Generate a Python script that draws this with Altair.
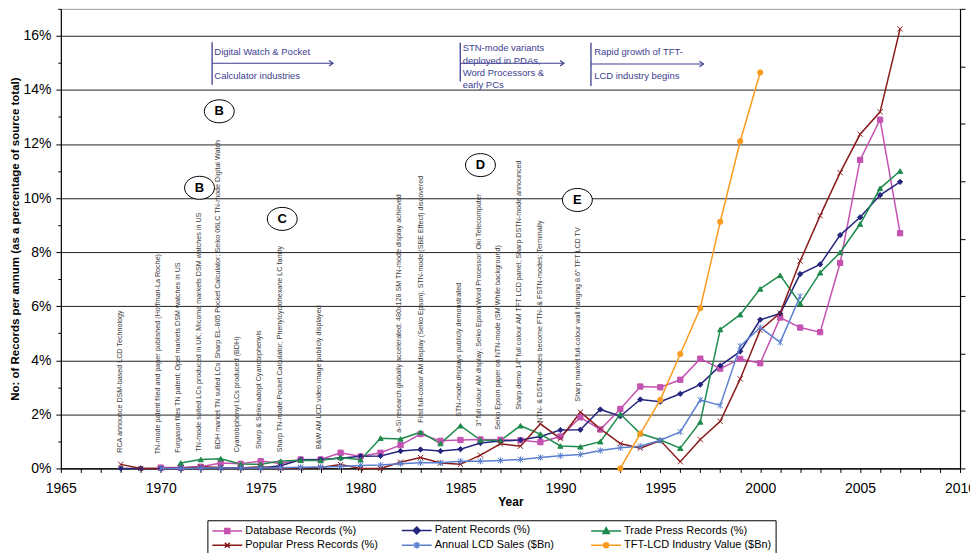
import altair as alt
import pandas as pd

FONT = "Liberation Sans"

SERIES = ["Database Records (%)", "Patent Records (%)", "Trade Press Records (%)",
          "Popular Press Records (%)", "Annual LCD Sales ($Bn)", "TFT-LCD Industry Value ($Bn)"]
COLORS = ["#C452B0", "#25257E", "#1E8A4C", "#8A1A1A", "#5B7FD0", "#F99B1E"]

DB_YEARS = list(range(1970, 2008))
DB_VALUES = [0.03, 0.03, 0.06, 0.2, 0.17, 0.27, 0.18, 0.33, 0.33, 0.58,
             0.44, 0.58, 0.86, 1.27, 1.02, 1.05, 1.07, 1.06, 1.04, 0.97,
             1.18, 1.89, 1.44, 2.2, 3.03, 3.0, 3.28, 4.06, 3.69, 4.05,
             3.89, 5.58, 5.21, 5.04, 7.6, 11.41, 12.9, 8.7]

PATENT_YEARS = list(range(1968, 2008))
PATENT_VALUES = [0, 0, 0, 0, 0.01, 0.02, 0.02, 0.02, 0.1, 0.32,
                 0.33, 0.38, 0.45, 0.46, 0.64, 0.7, 0.64, 0.71, 0.94, 1.01,
                 1.05, 1.18, 1.42, 1.43, 2.18, 1.93, 2.55, 2.47, 2.76, 3.1,
                 3.8, 4.33, 5.5, 5.73, 7.19, 7.55, 8.63, 9.29, 10.11, 10.6]

TRADE_YEARS = list(range(1971, 2008))
TRADE_VALUES = [0.2, 0.33, 0.36, 0.16, 0.15, 0.27, 0.3, 0.29, 0.4, 0.32,
                1.12, 1.09, 1.34, 0.92, 1.58, 1.05, 1.03, 1.58, 1.27, 0.83,
                0.8, 0.99, 2.01, 1.29, 1.05, 0.75, 1.72, 5.14, 5.69, 6.64,
                7.14, 6.1, 7.24, 7.99, 9.04, 10.36, 11.0]

POPULAR_YEARS = list(range(1968, 2008))
POPULAR_VALUES = [0.15, 0, 0, 0.01, 0.06, 0.03, 0.02, 0.06, 0.0, 0.02,
                  0.03, 0.14, 0, 0, 0.23, 0.4, 0.2, 0.15, 0.49, 0.91,
                  0.82, 1.65, 1.1, 2.08, 1.46, 0.92, 0.75, 1.03, 0.25, 1.07,
                  1.74, 3.31, 5.12, 5.75, 7.67, 9.35, 10.94, 12.36, 13.19, 16.26]

SALES_YEARS = list(range(1970, 2003))
SALES_VALUES = [0, 0, 0.03, 0.03, 0.03, 0.03, 0.06, 0.1, 0.13, 0.17,
                0.26, 0.29, 0.41, 0.49, 0.49, 0.63, 0.63, 0.69, 0.78, 0.95,
                1.1, 1.21, 1.56, 1.79, 1.93, 2.45, 3.18, 5.97, 5.48, 10.65,
                12.27, 10.97, 14.98]

TFT_YEARS = list(range(1993, 2001))
TFT_VALUES = [0, 3.03, 5.97, 9.96, 13.94, 21.47, 28.48, 34.46]

# marker shapes on the plot and combined line+marker symbols for the legend
MARKERS = ["square", "diamond", "triangle-up",
           "M-1,-1L1,1M-1,1L1,-1",
           "M-1,-1L1,1M-1,1L1,-1M0,-1.2V1.2",
           "circle"]
LEGEND_SYMBOLS = ["M-1,0H5M1.5,-0.5H2.5V0.5H1.5Z",
                  "M-1,0H5M2,-0.7L2.7,0L2,0.7L1.3,0Z",
                  "M-1,0H5M2,-0.65L2.65,0.5H1.35Z",
                  "M-1,0H5M1.5,-0.5L2.5,0.5M1.5,0.5L2.5,-0.5",
                  "M-1,0H5M1.5,-0.5L2.5,0.5M1.5,0.5L2.5,-0.5M2,-0.65V0.65",
                  "M-1,0H5M2.5,0A0.5,0.5 0 1,1 1.5,0A0.5,0.5 0 1,1 2.5,0Z"]

# event annotations (year, % value at text start, text)
EVENT_YEARS = [1967.94, 1969.84, 1970.84, 1971.9, 1972.85, 1973.8, 1974.9, 1975.95, 1977.9,
               1981.9, 1983.0, 1984.95, 1985.95, 1986.9, 1987.95, 1989.0, 1990.9]
EVENT_VALUES = [0.58, 0.52, 0.58, 0.62, 0.72, 0.6, 0.72, 0.6, 0.72,
                1.32, 1.69, 1.91, 1.55, 1.43, 2.17, 1.69, 2.47]
EVENT_TEXTS = [
    "RCA announce DSM-based LCD Technology",
    "TN-mode patent filed and paper published (Hoffman-La Roche)",
    "Furgason files TN patent; Opel markets DSM watches in US",
    "TN-mode suited LCs produced in UK; Micoma markets DSM watches in US",
    "BDH market TN suited LCs; Sharp EL-805 Pocket Calculator; Seiko 06LC TN-mode Digital Watch",
    "Cyanobiphenyl LCs produced (BDH)",
    "Sharp & Seiko adopt Cyanobiphenyls",
    "Sharp TN-mode Pocket Calculator; Phenylcyclohexane LC family",
    "B&W AM LCD video image publicly displayed",
    "a-Si research globally accelerated; 480x128 SM TN-mode display achieved",
    "First full-colour AM display (Seiko Epson); STN-mode (SBE Effect) discovered",
    "STN-mode displays publicly demonstrated",
    "3\" full colour AM display; Seiko Epson Word Processor; Oki Telecomputer",
    "Seiko Epson paper on NTN-mode (SM White background)",
    "Sharp demo 14\" full colour AM TFT LCD panel; Sharp DSTN-mode announced",
    "NTN- & DSTN-modes become FTN- & FSTN-modes; Terminally",
    "Sharp market full-colour wall hanging 8.6\" TFT LCD TV",
]

# circled letters
CIRCLE_YEARS = [1972.93, 1971.94, 1976.08, 1986.0, 1990.85]
CIRCLE_VALUES = [13.21, 10.38, 9.23, 11.22, 9.93]
CIRCLE_LETTERS = ["B", "B", "C", "D", "E"]

# period arrows at the top
PERIOD_START = [1972.57, 1984.99, 1991.53]
PERIOD_END = [1978.62, 1990.18, 1997.16]
PERIOD_TOP = [15.76, 15.75, 15.75]
PERIOD_BOTTOM = [14.19, 14.31, 14.15]
PERIOD_ARROW = [14.99, 14.99, 14.96]
PERIOD_TEXT_YEAR = [1972.68, 1972.68, 1985.11, 1985.11, 1985.11, 1985.11, 1991.69, 1991.69]
PERIOD_TEXT_VALUE = [15.39, 14.52, 15.56, 15.08, 14.64, 14.2, 15.39, 14.52]
PERIOD_TEXTS = ["Digital Watch & Pocket", "Calculator industries",
                "STN-mode variants", "deployed in PDAs,", "Word Processors &", "early PCs",
                "Rapid growth of TFT-", "LCD industry begins"]

ANNOT_BLUE = "#3D3D8F"


def frame(name, years, values):
    return pd.DataFrame({"year": years, "value": values, "series": name})


left_df = pd.concat([frame(SERIES[0], DB_YEARS, DB_VALUES),
                     frame(SERIES[1], PATENT_YEARS, PATENT_VALUES),
                     frame(SERIES[2], TRADE_YEARS, TRADE_VALUES),
                     frame(SERIES[3], POPULAR_YEARS, POPULAR_VALUES)], ignore_index=True)
right_df = pd.concat([frame(SERIES[4], SALES_YEARS, SALES_VALUES),
                      frame(SERIES[5], TFT_YEARS, TFT_VALUES)], ignore_index=True)
all_df = pd.concat([left_df, right_df], ignore_index=True)

events_df = pd.DataFrame({"year": EVENT_YEARS, "value": EVENT_VALUES, "label": EVENT_TEXTS})
circles_df = pd.DataFrame({"year": CIRCLE_YEARS, "value": CIRCLE_VALUES, "label": CIRCLE_LETTERS})
pvert_df = pd.DataFrame({"year": PERIOD_START, "value": PERIOD_TOP, "value2": PERIOD_BOTTOM})
phoriz_df = pd.DataFrame({"year": PERIOD_START, "year2": PERIOD_END, "value": PERIOD_ARROW})
pheads_df = pd.DataFrame({"year": PERIOD_END, "value": PERIOD_ARROW})
ptext_df = pd.DataFrame({"year": PERIOD_TEXT_YEAR, "value": PERIOD_TEXT_VALUE, "label": PERIOD_TEXTS})

color_scale = alt.Scale(domain=SERIES, range=COLORS)
marker_scale = alt.Scale(domain=SERIES, range=MARKERS)
legend_shape_scale = alt.Scale(domain=SERIES, range=LEGEND_SYMBOLS)

X = alt.X("year:Q",
          scale=alt.Scale(domain=[1965, 2010], nice=False, zero=False),
          axis=alt.Axis(values=list(range(1965, 2011)),
                        labelExpr="datum.value % 5 == 0 ? format(datum.value, 'd') : ''",
                        labelOverlap=False, labelFlush=False, tickSize=4, labelPadding=9,
                        grid=False, title="Year", titlePadding=1))

Y = alt.Y("value:Q",
          scale=alt.Scale(domain=[0, 17], nice=False, zero=True),
          axis=alt.Axis(values=list(range(0, 18)),
                        labelExpr="datum.value % 2 == 0 && datum.value < 17 ? datum.value + '%' : ''",
                        labelOverlap=False, labelFlush=False, labelPadding=5,
                        tickSize={"condition": {"test": "datum.value % 2 == 0", "value": 5}, "value": 3},
                        grid=True,
                        gridColor={"condition": {"test": "datum.value == 17", "value": "#9a9a9a"},
                                   "value": "#222222"},
                        gridOpacity={"condition": {"test": "datum.value % 2 == 0 || datum.value == 17",
                                                   "value": 1}, "value": 0},
                        title="No: of Records per annum (as a percentage of source total)",
                        titlePadding=2, titleFontSize=11.5))

Y_RIGHT = alt.Y("value:Q",
                scale=alt.Scale(domain=[0, 40], nice=False, zero=True),
                axis=alt.Axis(orient="right", values=list(range(0, 41, 5)), labels=False,
                              tickSize=5, grid=False, title=None))

left_lines = alt.Chart(left_df).mark_line(strokeWidth=1.5).encode(
    x=X, y=Y, color=alt.Color("series:N", scale=color_scale, legend=None))
left_points = alt.Chart(left_df).mark_point(filled=True, size=28, opacity=1, strokeWidth=1).encode(
    x=X, y=Y,
    fill=alt.Fill("series:N", scale=color_scale, legend=None),
    stroke=alt.Stroke("series:N", scale=color_scale, legend=None),
    shape=alt.Shape("series:N", scale=marker_scale, legend=None))

event_text = alt.Chart(events_df).mark_text(
    angle=270, align="left", baseline="middle", fontSize=7.2, font=FONT, color="#3a3a3a"
).encode(x=X, y=Y, text="label:N")

period_vert = alt.Chart(pvert_df).mark_rule(color=ANNOT_BLUE, strokeWidth=1.3).encode(
    x=X, y=Y, y2="value2:Q")
period_horiz = alt.Chart(phoriz_df).mark_rule(color=ANNOT_BLUE, strokeWidth=1.1).encode(
    x=X, x2="year2:Q", y=Y)
period_heads = alt.Chart(pheads_df).mark_point(
    shape="M-1,-0.7L0,0L-1,0.7", filled=False, size=64, color=ANNOT_BLUE, strokeWidth=1.2, opacity=1
).encode(x=X, y=Y)
period_text = alt.Chart(ptext_df).mark_text(
    align="left", baseline="middle", fontSize=9.5, font=FONT, color=ANNOT_BLUE
).encode(x=X, y=Y, text="label:N")

circles = alt.Chart(circles_df).mark_point(
    shape="M-1,0A1,0.77 0 1,1 1,0A1,0.77 0 1,1 -1,0Z", size=900, filled=True,
    fill="white", stroke="black", strokeWidth=1, opacity=1
).encode(x=X, y=Y)
circle_text = alt.Chart(circles_df).mark_text(
    fontSize=13, fontWeight="bold", font=FONT, color="black", baseline="middle"
).encode(x=X, y=Y, text="label:N")

left = alt.layer(left_lines, left_points, event_text, period_vert, period_horiz,
                 period_heads, period_text, circles, circle_text)

right_lines = alt.Chart(right_df).mark_line(strokeWidth=1.5).encode(
    x=X, y=Y_RIGHT, color=alt.Color("series:N", scale=color_scale, legend=None))
right_points = alt.Chart(right_df).mark_point(filled=True, size=28, opacity=1, strokeWidth=1).encode(
    x=X, y=Y_RIGHT,
    fill=alt.Fill("series:N", scale=color_scale, legend=None),
    stroke=alt.Stroke("series:N", scale=color_scale, legend=None),
    shape=alt.Shape("series:N", scale=marker_scale, legend=None))
right = alt.layer(right_lines, right_points)

LEG = alt.Legend(title=None, orient="none", legendX=147, legendY=513, columns=3,
                 direction="horizontal", symbolSize=100, symbolStrokeWidth=1.5,
                 labelFont=FONT, labelFontSize=11, labelColor="black", labelOffset=22,
                 labelLimit=400, gridAlign="all", columnPadding=6, rowPadding=1,
                 strokeColor="black", padding=4, symbolOpacity=1)

legend_layer = alt.Chart(all_df).transform_filter("datum.year < 0").mark_point(
    filled=True, opacity=1).encode(
    x=X,
    y=alt.Y("value:Q", scale=alt.Scale(domain=[0, 17], nice=False), axis=None),
    fill=alt.Fill("series:N", scale=color_scale, legend=LEG),
    stroke=alt.Stroke("series:N", scale=color_scale, legend=LEG),
    shape=alt.Shape("series:N", scale=legend_shape_scale, legend=LEG))

chart = alt.layer(left, right, legend_layer).resolve_scale(
    y="independent", color="independent", fill="independent",
    stroke="independent", shape="independent"
).properties(
    width=902, height=461,
    padding={"left": 53, "top": 0, "right": 10, "bottom": 84},
    autosize=alt.AutoSizeParams(type="none")
).configure_view(stroke=None).configure_axis(
    labelFont=FONT, labelFontSize=14, labelColor="black",
    titleFont=FONT, titleFontSize=12, titleFontWeight="bold", titleColor="black",
    domainColor="black", domainWidth=1.2, tickColor="black", tickWidth=1
)

chart.save("out.html", embed_options={"renderer": "svg", "actions": False})
